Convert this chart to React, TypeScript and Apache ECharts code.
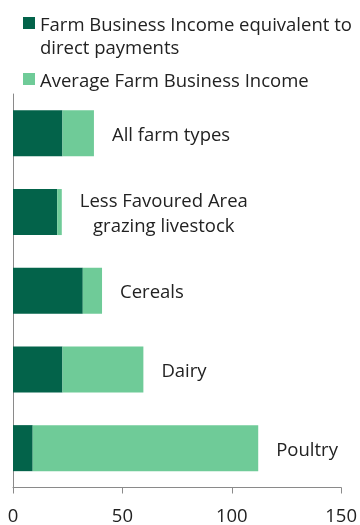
import React, { useEffect, useRef } from "react";
import * as echarts from "echarts";

const categories = [
  "All farm types",
  "Less Favoured Area grazing livestock",
  "Cereals",
  "Dairy",
  "Poultry",
];
const labelLines = [
  ["All farm types"],
  ["Less Favoured Area", "grazing livestock"],
  ["Cereals"],
  ["Dairy"],
  ["Poultry"],
];
const directPayments = [22.6, 20.2, 31.9, 22.6, 9.0];
const averageFBI = [37.0, 22.3, 40.7, 59.6, 112.1];
const remainder = averageFBI.map((v, i) => +(v - directPayments[i]).toFixed(1));
const xTicks = { min: 0, max: 150, interval: 50 };

const SERIES_DARK = "Farm Business Income equivalent to direct payments";
const SERIES_LIGHT = "Average Farm Business Income";
const DARK = "#03634a";
const LIGHT = "#6fcb98";
const TEXT = "#222222";
const FONT = "'Open Sans', 'Noto Sans', sans-serif";
const FS = 18.5;

export default function App() {
  const ref = useRef<HTMLDivElement>(null);
  useEffect(() => {
    if (!ref.current) return;
    const chart = echarts.init(ref.current, undefined, { renderer: "svg" });
    chart.setOption({
      animation: false,
      textStyle: { fontFamily: FONT },
      legend: [
        {
          data: [SERIES_DARK],
          left: 23,
          top: 13,
          padding: 0,
          itemWidth: 12,
          itemHeight: 12,
          itemGap: 0,
          icon: "rect",
          formatter: () => "Farm Business Income equivalent to",
          textStyle: { fontSize: FS, color: TEXT, fontFamily: FONT, lineHeight: 20 },
          selectedMode: false,
        },
        {
          data: [SERIES_LIGHT],
          left: 23,
          top: 69,
          padding: 0,
          itemWidth: 12,
          itemHeight: 12,
          icon: "rect",
          textStyle: { fontSize: FS, color: TEXT, fontFamily: FONT, lineHeight: 20 },
          selectedMode: false,
        },
      ],
      graphic: [
        {
          type: "text",
          left: 40,
          top: 37,
          style: {
            text: "direct payments",
            font: `${FS}px ${FONT}`,
            fill: TEXT,
          },
        },
      ],
      grid: { left: 13, right: 17.3, top: 94, bottom: 37.5, containLabel: false },
      xAxis: {
        type: "value",
        min: xTicks.min,
        max: xTicks.max,
        interval: xTicks.interval,
        splitLine: { show: false },
        axisLine: { show: true, lineStyle: { color: "#8a8a8a", width: 1 } },
        axisTick: { show: true, length: 6, lineStyle: { color: "#8a8a8a" } },
        axisLabel: { fontSize: FS, color: TEXT, fontFamily: FONT, margin: 17 },
      },
      yAxis: {
        type: "category",
        data: categories,
        inverse: true,
        axisLine: { show: true, lineStyle: { color: "#8a8a8a", width: 1 } },
        axisTick: { show: false },
        axisLabel: { show: false },
      },
      series: [
        {
          name: SERIES_DARK,
          type: "bar",
          stack: "fbi",
          data: directPayments,
          barCategoryGap: "41.5%",
          itemStyle: { color: DARK },
          silent: true,
        },
        {
          name: SERIES_LIGHT,
          type: "bar",
          stack: "fbi",
          data: remainder,
          barCategoryGap: "41.5%",
          itemStyle: { color: LIGHT },
          silent: true,
          label: {
            show: true,
            position: "right",
            distance: 18,
            formatter: (p: any) =>
              labelLines[p.dataIndex].map((l) => `{c|${l}}`).join("\n"),
            rich: {
              c: {
                fontSize: FS,
                fontFamily: FONT,
                color: TEXT,
                align: "center",
                lineHeight: 25,
              },
            },
          },
        },
      ],
    });
    return () => chart.dispose();
  }, []);
  return (
    <div
      ref={ref}
      style={{ position: "fixed", left: 0, top: 0, width: 360, height: 525 }}
    />
  );
}
